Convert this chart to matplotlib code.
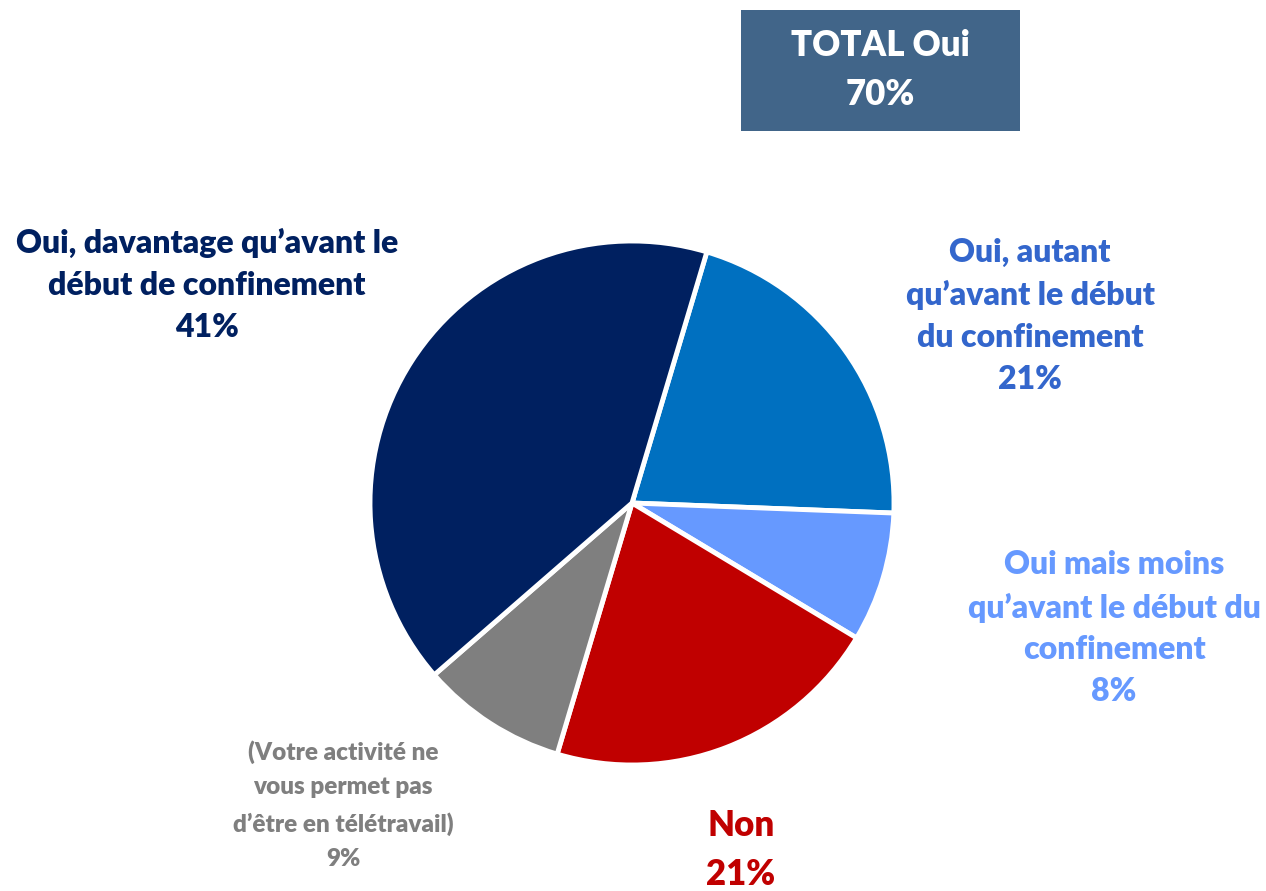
import matplotlib.pyplot as plt
from matplotlib.patches import Rectangle

# Slice data (clockwise from the top)
labels = ["Oui, autant\nqu’avant le début\ndu confinement",
          "Oui mais moins\nqu’avant le début du\nconfinement",
          "Non",
          "(Votre activité ne\nvous permet pas\nd’être en télétravail)",
          "Oui, davantage qu’avant le\ndébut de confinement"]
values = [21, 8, 21, 9, 41]
slice_colors = ["#0070C0", "#6699FF", "#C00000", "#7F7F7F", "#002060"]
text_colors = ["#3366CC", "#6699FF", "#C00000", "#7F7F7F", "#002060"]
total_oui = 70

W, H = 1266, 891
fig = plt.figure(figsize=(W / 100, H / 100), dpi=100)
ax = fig.add_axes([0, 0, 1, 1])

plt.rcParams['font.family'] = ['Lato', 'DejaVu Sans']

ax.pie(values, colors=slice_colors, startangle=73.4, counterclock=False,
       center=(632, H - 503), radius=262, frame=True,
       wedgeprops=dict(edgecolor='white', linewidth=3.5))
ax.set_xlim(0, W)
ax.set_ylim(0, H)
ax.set_aspect('equal')
ax.axis('off')

# label positions (centre of text block) and font sizes
label_pos = [(1030, 316), (1114, 628), (741, 850), (343, 805), (207, 285)]
label_size = [23, 23, 25, 17.5, 23]
label_spacing = [1.53, 1.52, 1.6, 1.7, 1.54]
for lab, v, c, (x, y), fs, ls in zip(labels, values, text_colors,
                                     label_pos, label_size, label_spacing):
    ax.text(x, H - y, f"{lab}\n{v}%", color=c, fontsize=fs, fontweight='heavy',
            ha='center', va='center', linespacing=ls)

# TOTAL box
ax.add_patch(Rectangle((741, H - 131), 279, 121, facecolor='#416589',
                       edgecolor='none'))
ax.text(880, H - 70, f"TOTAL Oui\n{total_oui}%", color='white', fontsize=25,
        fontweight='heavy', ha='center', va='center', linespacing=1.6)

fig.savefig('out.png', dpi=100)
